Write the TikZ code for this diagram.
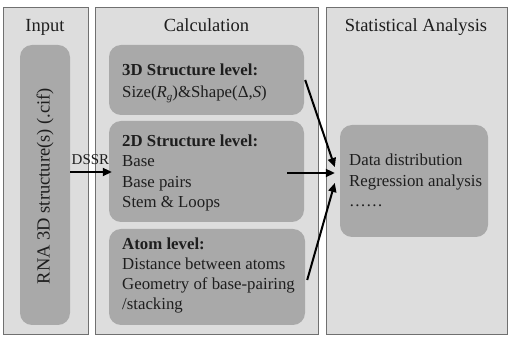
\documentclass[tikz,border=0pt]{standalone}
\usepackage{fontspec}
\setmainfont{Liberation Serif}
\usetikzlibrary{arrows.meta,calc}
\definecolor{panelfill}{HTML}{DDDDDD}
\definecolor{panelline}{HTML}{707070}
\definecolor{boxfill}{HTML}{A9A9A9}
\definecolor{txt}{HTML}{1E1E1E}
\begin{document}
\begin{tikzpicture}[x=1pt,y=-1pt,
  panel/.style={draw=panelline, fill=panelfill, line width=1pt, inner sep=0pt},
  inbox/.style={fill=boxfill, rounded corners=12pt, inner sep=0pt},
  head/.style={text=txt, font=\fontsize{18.5}{22}\selectfont, inner sep=0pt},
  body/.style={text=txt, font=\fontsize{16.8}{20}\selectfont, inner sep=0pt, anchor=base west},
  bodyb/.style={body, font=\fontsize{16.8}{20}\selectfont\bfseries},
  lab/.style={text=txt, font=\fontsize{15}{18}\selectfont, inner sep=0pt, anchor=base},
  arr/.style={-{Triangle[length=9pt,width=8pt]}, line width=2pt, black}]
\useasboundingbox (0,0) rectangle (512,344);
\fill[white] (0,0) rectangle (512,344);
% panels
\node[panel, minimum width=85pt, minimum height=327pt] (pin) at (45.5,171.5) {};
\node[panel, minimum width=223pt, minimum height=327pt] (pcalc) at (206.5,171.5) {};
\node[panel, minimum width=181pt, minimum height=327pt] (pstat) at (416.5,171.5) {};
% headings
\node[head, anchor=base] (hin) at (45,32) {Input};
\node[head, anchor=base] (hcalc) at (206.5,32) {Calculation};
\node[head, anchor=base] (hstat) at (416,32) {Statistical Analysis};
% inner boxes
\node[inbox, minimum width=50pt, minimum height=280pt] (inb) at (45,185) {};
\node[head, rotate=90] (intext) at (45,186) {RNA 3D structure(s) (.cif)};
\node[inbox, minimum width=195pt, minimum height=70pt] (box3) at (206.5,80) {};
\node[inbox, minimum width=195pt, minimum height=101pt] (box2) at (206.5,171.5) {};
\node[inbox, minimum width=196pt, minimum height=96pt] (box4) at (207,277) {};
\node[inbox, minimum width=148pt, minimum height=112pt] (stats) at (414,181) {};
% 3D text
\node[bodyb] (t3a) at (122,76) {3D Structure level:};
\node[body] (t3b) at (122,98) {Size(\textit{R}\raisebox{-0.35ex}{\fontsize{11}{12}\selectfont\textit{g}})\&Shape(Δ,\textit{S})};
% 2D text
\node[bodyb] (t2a) at (122,147) {2D Structure level:};
\node[body] (t2b) at (122,167) {Base};
\node[body] (t2c) at (122,188) {Base pairs};
\node[body] (t2d) at (122,208) {Stem \& Loops};
% atom text
\node[bodyb] (t4a) at (122,250) {Atom level:};
\node[body] (t4b) at (122,270) {Distance between atoms};
\node[body] (t4c) at (122,290) {Geometry of base-pairing};
\node[body] (t4d) at (122,310) {/stacking};
% stats text
\node[body] (s1) at (349,166) {Data distribution};
\node[body] (s2) at (349,187) {Regression analysis};
\node[body] (s3) at (349,207) {……};
% DSSR
\node[lab] (dssr) at (90.5,165) {DSSR};
\draw[arr] ($(inb.east)+(0,-13)$) -- ($(box2.west)+(3,0.5)$);
% arrows to stats
\draw[arr] ($(box3.east)+(1,0)$) -- ($(stats.west)+(-5,-14)$);
\draw[arr] ($(box2.east)+(-17,1.5)$) -- ($(stats.west)+(-5,-8)$);
\draw[arr] ($(box4.east)+(2,3)$) -- ($(stats.west)+(-5,2)$);
\end{tikzpicture}
\end{document}
